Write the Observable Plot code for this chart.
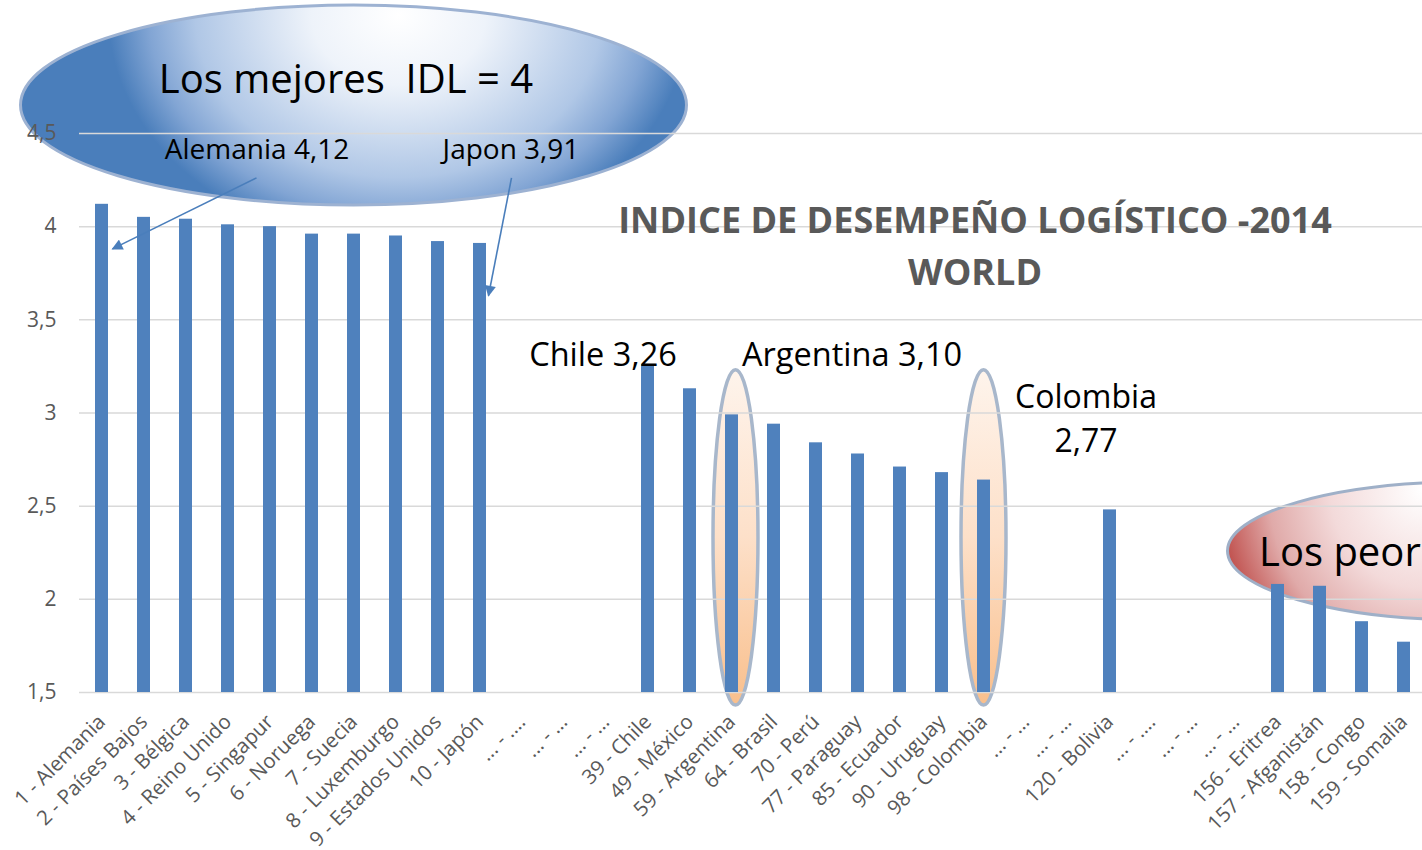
<!DOCTYPE html>
<html>
<head>
<meta charset="utf-8">
<script src="https://cdn.jsdelivr.net/npm/d3@7"></script>
<script src="https://cdn.jsdelivr.net/npm/@observablehq/plot@0.6"></script>
<style>
  html, body { margin: 0; padding: 0; background: #ffffff; overflow: hidden; }
  svg { display: block; }
</style>
</head>
<body>
<div id="chart"></div>
<script>
// ---- data ----
const countries = [
  "1 - Alemania", "2 - Países Bajos", "3 - Bélgica", "4 - Reino Unido", "5 - Singapur",
  "6 - Noruega", "7 - Suecia", "8 - Luxemburgo", "9 - Estados Unidos", "10 - Japón",
  "... - ....", "... - ...", "... - ...",
  "39 - Chile", "49 - México", "59 - Argentina", "64 - Brasil", "70 - Perú",
  "77 - Paraguay", "85 - Ecuador", "90 - Uruguay", "98 - Colombia",
  "... - ...", "... - ...", "120 - Bolivia",
  "... - ....", "... - ...", "... - ...",
  "156 - Eritrea", "157 - Afganistán", "158 - Congo", "159 - Somalia"
];
const idl = [
  4.12, 4.05, 4.04, 4.01, 4.00, 3.96, 3.96, 3.95, 3.92, 3.91,
  null, null, null,
  3.26, 3.13, 2.99, 2.94, 2.84, 2.78, 2.71, 2.68, 2.64,
  null, null, 2.48,
  null, null, null,
  2.08, 2.07, 1.88, 1.77
];
const yTicks = [1.5, 2, 2.5, 3, 3.5, 4, 4.5];
const chartTitle = "INDICE DE DESEMPEÑO LOGÍSTICO -2014\nWORLD";
const bestLabel = "Los mejores  IDL = 4";
const worstLabel = "Los peores";
const germanyLabel = "Alemania 4,12";
const japanLabel = "Japon 3,91";
const chileLabel = "Chile 3,26";
const argentinaLabel = "Argentina 3,10";
const colombiaLabel = "Colombia\n2,77";

const rows = idl.map((v, i) => ({i, v})).filter(d => d.v != null);
const comma = d => String(d).replace(".", ",");
const font = "'Open Sans', sans-serif";
const one = [0];

const chart = Plot.plot({
  width: 1422,
  height: 850,
  marginTop: 133,
  marginBottom: 158,
  marginLeft: 79,
  marginRight: -4,
  style: { fontFamily: font, background: "#ffffff", overflow: "visible" },
  x: { domain: d3.range(countries.length), paddingInner: 0.69, paddingOuter: 0.345 },
  y: { domain: [1.5, 4.5] },
  marks: [
    Plot.gridY(yTicks, { stroke: "#d9d9d9", strokeOpacity: 1, strokeWidth: 1.5 }),
    Plot.barY(rows, { x: "i", y: "v", fill: "#4f81bd", clip: true }),
    Plot.axisY(yTicks, { tickSize: 0, tickPadding: 23, tickFormat: comma, fontSize: 21, fill: "#595959", label: null }),
    Plot.axisX({ tickSize: 0, tickPadding: 26, tickRotate: -45, tickFormat: i => countries[i], fontSize: 20.5, fill: "#595959", label: null }),
    // annotations
    Plot.text(one, { x: () => 6, y: () => 4.784, dx: -8, text: () => bestLabel, fontSize: 40, fill: "#000" }),
    Plot.text(one, { x: () => 4, y: () => 4.409, dx: -13, text: () => germanyLabel, fontSize: 28, fill: "#000" }),
    Plot.text(one, { x: () => 9, y: () => 4.409, dx: 31, text: () => japanLabel, fontSize: 28, fill: "#000" }),
    Plot.text(one, { x: () => 21, y: () => 3.915, dx: -9, text: () => chartTitle, fontSize: 36, fontWeight: "bold", lineHeight: 1.444, fill: "#595959" }),
    Plot.text(one, { x: () => 13, y: () => 3.309, dx: -45, text: () => chileLabel, fontSize: 32.5, fill: "#000" }),
    Plot.text(one, { x: () => 15, y: () => 3.309, dx: 10, textAnchor: "start", text: () => argentinaLabel, fontSize: 32.5, fill: "#000" }),
    Plot.text(one, { x: () => 21, y: () => 2.982, dx: 102, text: () => colombiaLabel, fontSize: 32, lineHeight: 1.375, fill: "#000" }),
    Plot.text(one, { x: () => 28, y: () => 2.247, dx: -19, textAnchor: "start", text: () => worstLabel, fontSize: 40, fill: "#000" })
  ]
});

document.getElementById("chart").appendChild(chart);

// ---- decorative shapes positioned through the chart's scales ----
const xs = chart.scale("x"), ys = chart.scale("y");
const bw = xs.bandwidth;
const xc = i => xs.apply(i) + bw / 2;
const yv = v => ys.apply(v);
const svg = d3.select(chart);

const blue = { cx: xc(6), cy: yv(4.65), rx: 333, ry: 100 };
const red = { cx: xc(28) - 50 + 240, cy: yv(2.257), rx: 240, ry: 69 };

const defs = svg.insert("defs", ":first-child");
const blueG = defs.append("radialGradient").attr("id", "gBlue")
  .attr("gradientUnits", "userSpaceOnUse").attr("cx", 0).attr("cy", 0).attr("r", 1)
  .attr("gradientTransform", `translate(${blue.cx + 45},${blue.cy - 90}) scale(290,232)`);
blueG.append("stop").attr("offset", "0").attr("stop-color", "#ffffff");
blueG.append("stop").attr("offset", "0.3").attr("stop-color", "#eef3fa");
blueG.append("stop").attr("offset", "0.7").attr("stop-color", "#b0c7e6");
blueG.append("stop").attr("offset", "0.86").attr("stop-color", "#82a5d4");
blueG.append("stop").attr("offset", "1").attr("stop-color", "#4a7ebb");

const redG = defs.append("radialGradient").attr("id", "gRed")
  .attr("gradientUnits", "userSpaceOnUse").attr("cx", 0).attr("cy", 0).attr("r", 1)
  .attr("gradientTransform", `translate(${red.cx - 45},${red.cy - 62}) scale(205,220)`);
redG.append("stop").attr("offset", "0").attr("stop-color", "#ffffff");
redG.append("stop").attr("offset", "0.45").attr("stop-color", "#f3dada");
redG.append("stop").attr("offset", "0.75").attr("stop-color", "#e0aaa9");
redG.append("stop").attr("offset", "1").attr("stop-color", "#c0504d");

const orangeG = defs.append("linearGradient").attr("id", "gOrange")
  .attr("x1", "0").attr("y1", "0").attr("x2", "0").attr("y2", "1");
orangeG.append("stop").attr("offset", "0").attr("stop-color", "#fef4ec");
orangeG.append("stop").attr("offset", "0.5").attr("stop-color", "#fde0c9");
orangeG.append("stop").attr("offset", "1").attr("stop-color", "#f9bf8c");

const marker = defs.append("marker").attr("id", "arrowHead")
  .attr("viewBox", "0 0 10 10").attr("refX", 9).attr("refY", 5)
  .attr("markerWidth", 12).attr("markerHeight", 11).attr("markerUnits", "userSpaceOnUse")
  .attr("orient", "auto");
marker.append("path").attr("d", "M0,0L10,5L0,10Z").attr("fill", "#4a7ebb");

// background shapes (behind grid, bars and text)
const back = svg.insert("g", "defs + *");
back.append("ellipse")
  .attr("cx", blue.cx).attr("cy", blue.cy).attr("rx", blue.rx).attr("ry", blue.ry)
  .attr("fill", "url(#gBlue)").attr("stroke", "#9db2d2").attr("stroke-width", 3);
for (const i of [15, 21]) {
  const top = yv(3.23), bottom = yv(1.43);
  back.append("ellipse")
    .attr("cx", xc(i) + (i === 15 ? 4 : 0)).attr("cy", (top + bottom) / 2)
    .attr("rx", 22.5).attr("ry", (bottom - top) / 2)
    .attr("fill", "url(#gOrange)").attr("stroke", "#a8b7cb").attr("stroke-width", 3.5);
}
back.append("ellipse")
  .attr("cx", red.cx).attr("cy", red.cy).attr("rx", red.rx).attr("ry", red.ry)
  .attr("fill", "url(#gRed)").attr("stroke", "#9fb0c8").attr("stroke-width", 3);

// callout arrows
const arrows = svg.append("g").attr("stroke", "#4a7ebb").attr("stroke-width", 1.6).attr("fill", "none");
arrows.append("line")
  .attr("x1", xc(4) - 13).attr("y1", yv(4.259))
  .attr("x2", xc(0) + 11).attr("y2", yv(3.878))
  .attr("marker-end", "url(#arrowHead)");
arrows.append("line")
  .attr("x1", xc(9) + 32).attr("y1", yv(4.259))
  .attr("x2", xc(9) + 9).attr("y2", yv(3.627))
  .attr("marker-end", "url(#arrowHead)");
</script>
</body>
</html>
